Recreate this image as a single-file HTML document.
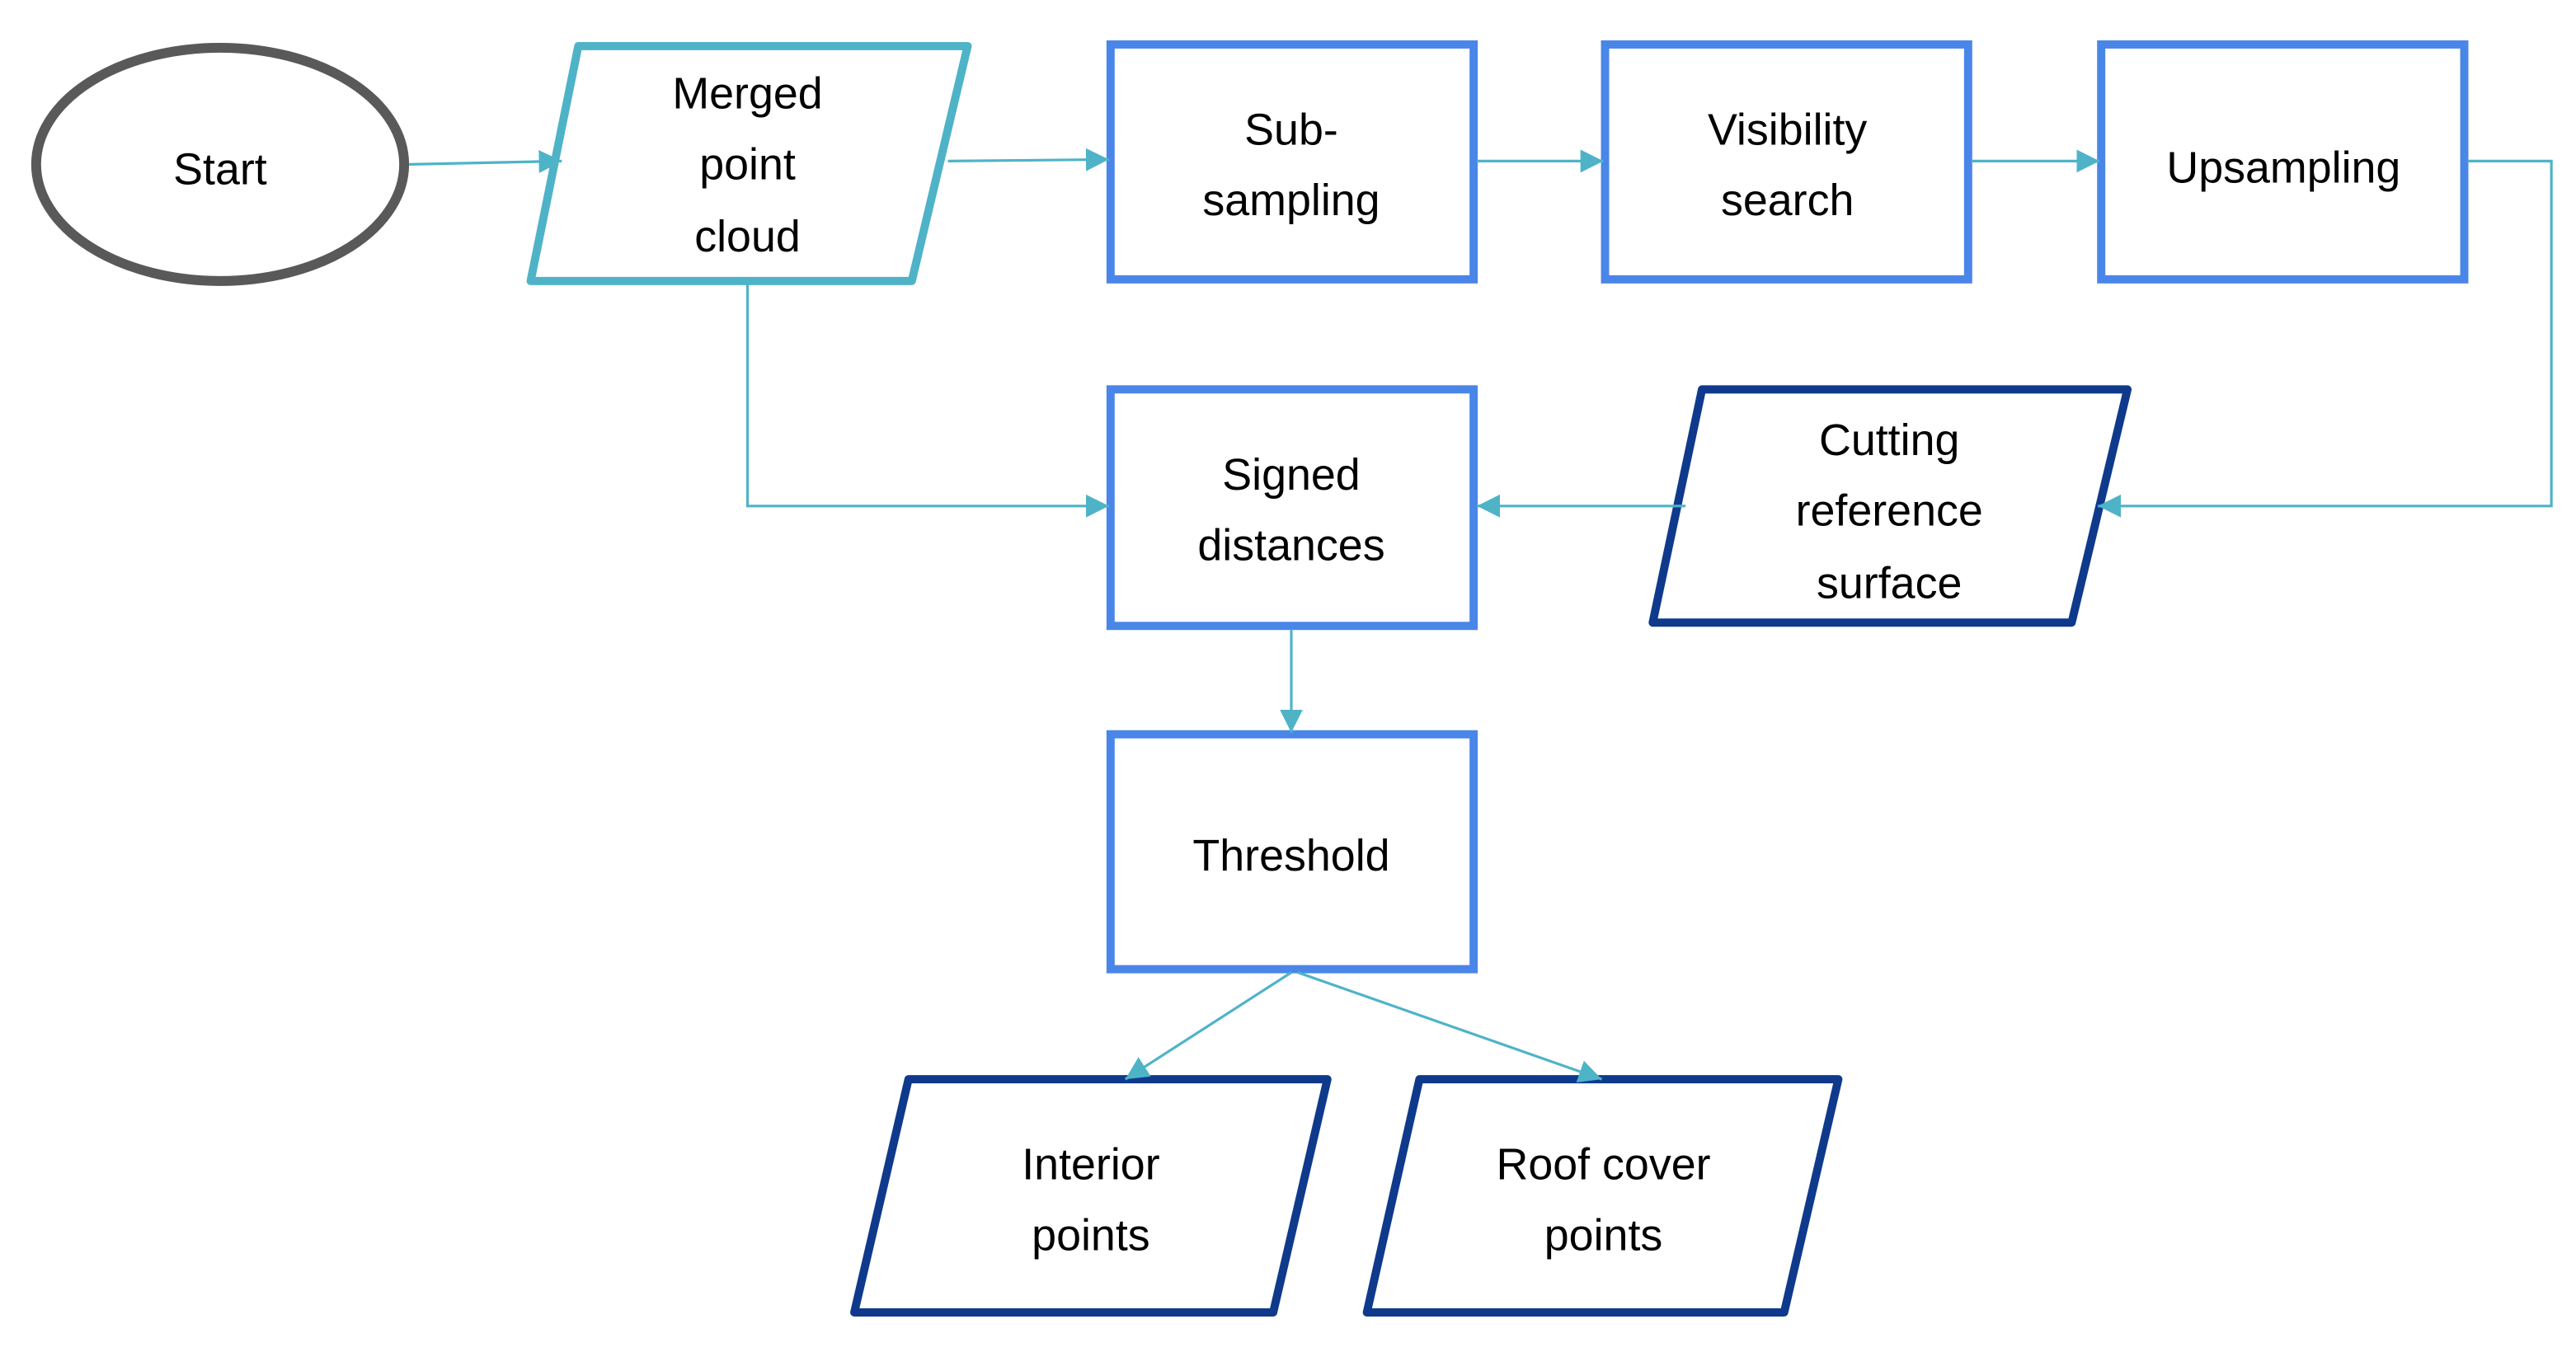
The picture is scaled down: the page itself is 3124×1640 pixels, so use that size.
<!DOCTYPE html>
<html><head><meta charset="utf-8"><style>
html,body{margin:0;padding:0;background:#fff;}
svg{display:block;}
text{font-family:"Liberation Sans",sans-serif;font-size:27px;fill:#000;text-anchor:middle;}
</style></head><body>
<svg width="3124" height="1640" viewBox="0 0 1568 823" xmlns="http://www.w3.org/2000/svg">
<defs>
<marker id="a" viewBox="0 0 10 10" refX="10" refY="5" markerWidth="14" markerHeight="14" orient="auto" markerUnits="userSpaceOnUse">
<path d="M0,0 L10,5 L0,10 z" fill="#4FB3C8"/></marker>
</defs>
<rect width="1568" height="823" fill="#fff"/>
<ellipse cx="134" cy="100" rx="112" ry="71" fill="#fff" stroke="#595959" stroke-width="6"/>
<polygon points="352,28 589,28 555,171 323,171" fill="#fff" stroke="#4FB3C8" stroke-width="5" stroke-linejoin="round"/>
<g fill="#fff" stroke="#4A86E8" stroke-width="5">
<rect x="676" y="27" width="221" height="143"/>
<rect x="977" y="27" width="221" height="143"/>
<rect x="1279" y="27" width="221" height="143"/>
<rect x="676" y="237" width="221" height="144"/>
<rect x="676" y="447" width="221" height="143"/>
</g>
<g fill="#fff" stroke="#0F3A8C" stroke-width="5" stroke-linejoin="round">
<polygon points="1036,237 1295,237 1261,379 1006,379"/>
<polygon points="553,657 808,657 775,799 520,799"/>
<polygon points="864,657 1119,657 1086,799 832,799"/>
</g>
<g fill="none" stroke="#4FB3C8" stroke-width="1.6">
<path d="M249 100 L342 98" marker-end="url(#a)"/>
<path d="M577 98 L675 97" marker-end="url(#a)"/>
<path d="M899 98 L976 98" marker-end="url(#a)"/>
<path d="M1200 98 L1278 98" marker-end="url(#a)"/>
<path d="M1502 98 L1553 98 L1553 308 L1277 308" marker-end="url(#a)"/>
<path d="M1026 308 L899 308" marker-end="url(#a)"/>
<path d="M455 173 L455 308 L675 308" marker-end="url(#a)"/>
<path d="M786 383 L786 446" marker-end="url(#a)"/>
<path d="M786 592 L685 657" marker-end="url(#a)"/>
<path d="M790 592 L975 657" marker-end="url(#a)"/>
</g>
<text x="134" y="112">Start</text>
<text x="455" y="66">Merged</text><text x="455" y="109">point</text><text x="455" y="153">cloud</text>
<text x="786" y="88">Sub-</text><text x="786" y="131">sampling</text>
<text x="1088" y="88">Visibility</text><text x="1088" y="131">search</text>
<text x="1390" y="111">Upsampling</text>
<text x="786" y="298">Signed</text><text x="786" y="341">distances</text>
<text x="1150" y="277">Cutting</text><text x="1150" y="320">reference</text><text x="1150" y="364">surface</text>
<text x="786" y="530">Threshold</text>
<text x="664" y="718">Interior</text><text x="664" y="761">points</text>
<text x="976" y="718">Roof cover</text><text x="976" y="761">points</text>
</svg>
</body></html>
